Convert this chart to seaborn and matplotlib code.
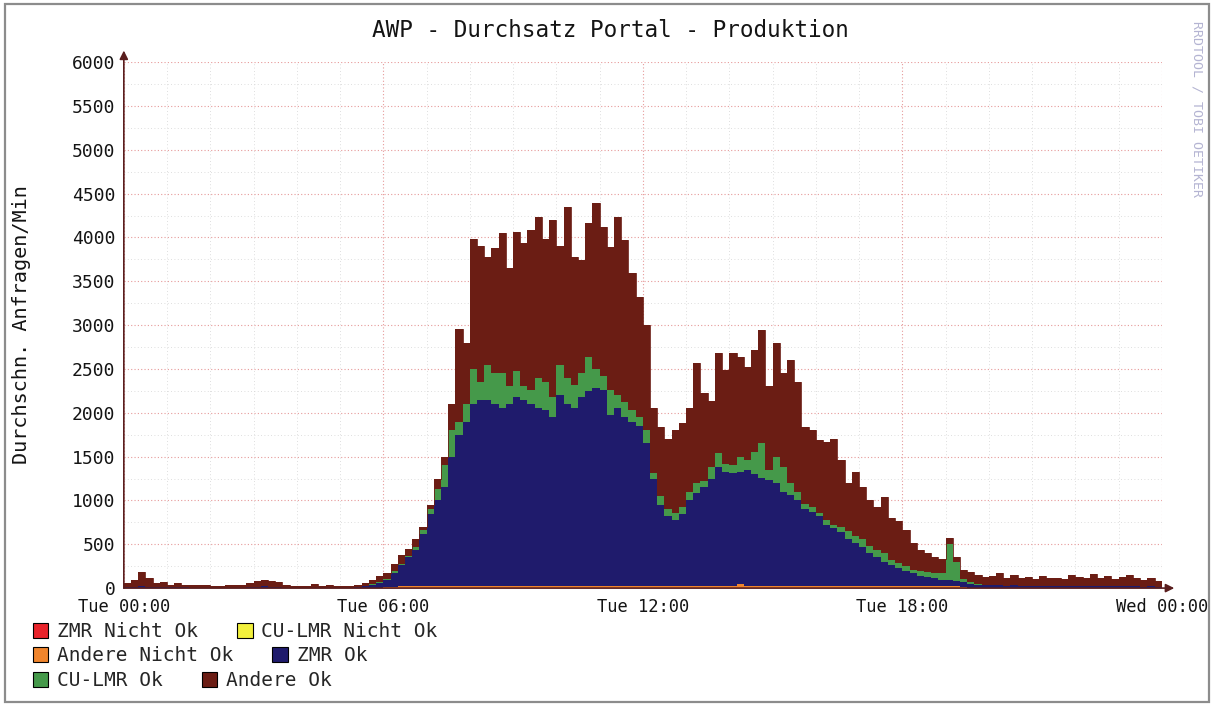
import numpy as np
import pandas as pd
import seaborn as sns
import matplotlib
matplotlib.use("Agg")
from matplotlib import pyplot as plt
from matplotlib.patches import Patch, Rectangle
from matplotlib.ticker import MultipleLocator

# 10-minute averages, Tue 00:00 -> Wed 00:00 (144 samples per series)
zmr_ok = [
    10, 15, 20, 15, 10, 10, 8, 10, 8, 5, 5, 5, 5, 5, 5, 5, 5, 10, 15, 20,
    15, 10, 5, 5, 5, 5, 5, 5, 5, 5, 5, 5, 10, 20, 40, 60,
    80, 155, 240, 330, 420, 600, 830, 980, 1130, 1480, 1730, 1880,
    2080, 2130, 2130, 2080, 2030, 2080, 2160, 2130, 2080, 2030, 2010, 1930,
    2180, 2080, 2030, 2160, 2230, 2260, 2240, 1960, 2040, 1930, 1880, 1830,
    1630, 1230, 930, 800, 760, 830, 980, 1060, 1130, 1230, 1360, 1310,
    1290, 1280, 1330, 1280, 1240, 1210, 1180, 1080, 1040, 980, 880, 850,
    800, 700, 660, 620, 540, 500, 450, 380, 330, 280, 240, 210,
    180, 150, 120, 105, 90, 75, 70, 60, 60, 45, 40, 35,
    30, 30, 25, 30, 25, 25, 20, 25, 25, 25, 20, 25, 25, 20, 25, 25, 25, 20, 20, 25,
    20, 15, 20, 15,
]
cu_lmr_ok = [
    0, 0, 0, 0, 0, 0, 0, 0, 0, 0, 0, 0, 0, 0, 0, 0, 0, 0, 0, 0,
    0, 0, 0, 0, 0, 0, 0, 0, 0, 0, 0, 0, 0, 0, 5, 5,
    10, 20, 20, 20, 30, 40, 50, 130, 250, 300, 150, 200,
    400, 200, 400, 350, 400, 200, 300, 150, 160, 350, 320, 230,
    350, 300, 270, 270, 390, 220, 160, 280, 140, 170, 130, 100,
    150, 60, 100, 80, 80, 80, 100, 120, 70, 130, 160, 90,
    90, 170, 110, 250, 390, 120, 300, 280, 140, 100, 60, 50,
    40, 60, 40, 60, 90, 80, 90, 80, 90, 100, 60, 60,
    50, 40, 60, 55, 60, 75, 410, 220, 30, 20, 10, 5,
    0, 0, 0, 0, 0, 0, 0, 0, 0, 0, 0, 0, 0, 0, 0, 0, 0, 0, 0, 0,
    0, 0, 0, 0,
]
andere_ok = [
    50, 75, 160, 95, 50, 60, 32, 50, 27, 25, 25, 25, 20, 20, 30, 25, 25, 50, 70, 70,
    65, 65, 35, 20, 20, 20, 40, 20, 35, 15, 20, 15, 20, 40, 50, 70,
    70, 90, 100, 80, 90, 40, 50, 120, 100, 300, 1050, 700,
    1480, 1550, 1230, 1430, 1600, 1350, 1580, 1640, 1820, 1830, 1630, 2020,
    1350, 1950, 1460, 1290, 1520, 1890, 1700, 1630, 2030, 1850, 1560, 1370,
    1200, 740, 790, 800, 940, 950, 950, 1370, 1000, 760, 1140, 1070,
    1280, 1140, 1060, 1170, 1290, 950, 1300, 1070, 1400, 1250, 880, 880,
    830, 890, 980, 760, 550, 730, 590, 520, 490, 640, 480, 470,
    410, 300, 230, 220, 190, 160, 70, 50, 110, 110, 100, 90,
    110, 140, 95, 120, 85, 105, 80, 115, 85, 95, 80, 125, 105, 90, 135, 95, 115, 80, 110, 125,
    90, 75, 100, 65,
]
andere_nicht_ok = [
    0, 0, 0, 0, 0, 0, 0, 0, 0, 0, 0, 0, 0, 0, 0, 0, 0, 0, 0, 0,
    0, 0, 0, 0, 0, 0, 0, 0, 0, 0, 0, 0, 0, 0, 0, 0,
    10, 15, 20, 20, 20, 20, 20, 20, 20, 20, 20, 20,
    20, 20, 20, 20, 20, 20, 20, 20, 20, 20, 20, 20,
    20, 20, 20, 20, 20, 20, 20, 20, 20, 20, 20, 20,
    20, 20, 20, 20, 20, 20, 20, 20, 20, 20, 20, 20,
    20, 50, 20, 20, 20, 20, 20, 20, 20, 20, 20, 20,
    20, 20, 20, 20, 20, 20, 20, 20, 20, 20, 20, 20,
    20, 20, 20, 20, 20, 20, 20, 20, 10, 5, 0, 0,
    0, 0, 0, 0, 0, 0, 0, 0, 0, 0, 0, 0, 0, 0, 0, 0, 0, 0, 0, 0,
    0, 0, 0, 0,
]
# both "Nicht Ok" series stay at zero for the whole day
zmr_nicht_ok = [0] * 144
cu_lmr_nicht_ok = [0] * 144

legend_labels = ["ZMR Nicht Ok", "CU-LMR Nicht Ok", "Andere Nicht Ok",
                 "ZMR Ok", "CU-LMR Ok", "Andere Ok"]
colors = ["#e8232b", "#f2f03c", "#f0852d", "#1f1b6c", "#45994a", "#6b1d14"]
tick_hours = [0, 6, 12, 18, 24]
tick_labels = ["Tue 00:00", "Tue 06:00", "Tue 12:00", "Tue 18:00", "Wed 00:00"]

df = pd.DataFrame({
    "ZMR Nicht Ok": zmr_nicht_ok,
    "CU-LMR Nicht Ok": cu_lmr_nicht_ok,
    "Andere Nicht Ok": andere_nicht_ok,
    "ZMR Ok": zmr_ok,
    "CU-LMR Ok": cu_lmr_ok,
    "Andere Ok": andere_ok,
})
cum = df.cumsum(axis=1)
hours = np.arange(len(df) + 1) / 6.0

sns.set_style("white")
plt.rcParams["font.family"] = ["DejaVu Sans Mono"]
text_col = "#141414"
axis_col = "#5a1e1e"

fig = plt.figure(figsize=(12.14, 7.06), dpi=100, facecolor="white")
ax = fig.add_axes([0.102, 0.167, 0.855, 0.745])

lower = np.zeros(len(hours))
for name, color in zip(legend_labels, colors):
    upper = np.append(cum[name].values, cum[name].values[-1])
    ax.fill_between(hours, lower, upper, step="post", color=color, lw=0, zorder=3)
    lower = upper
sns.lineplot(x=hours, y=lower, drawstyle="steps-post", color=colors[-1],
             lw=0.6, ax=ax, zorder=4)

ax.set_xlim(0, 24)
ax.set_ylim(0, 6000)
ax.set_xticks(tick_hours, tick_labels)
ax.xaxis.set_minor_locator(MultipleLocator(1))
ax.yaxis.set_major_locator(MultipleLocator(500))
ax.yaxis.set_minor_locator(MultipleLocator(250))
ax.grid(which="major", color="#e69a9a", ls=(0, (1, 2)), lw=0.8, zorder=1)
ax.grid(which="minor", color="#d4d4d4", ls=(0, (1, 3)), lw=0.6, zorder=1)
ax.tick_params(axis="both", which="major", length=4, width=0.8, color=axis_col,
               labelsize=13, labelcolor=text_col, pad=2)
ax.tick_params(axis="x", which="major", labelsize=12.3, pad=3)
ax.tick_params(axis="both", which="minor", length=2, width=0.6, color=axis_col)
for s in ax.spines.values():
    s.set_visible(False)

ax.annotate("", xy=(0, 1.022), xytext=(0, 0), xycoords="axes fraction",
            arrowprops=dict(arrowstyle="-|>,head_length=0.5,head_width=0.25",
                            color=axis_col, lw=1.2, shrinkA=0, shrinkB=0), zorder=6)
ax.annotate("", xy=(1.012, 0), xytext=(0, 0), xycoords="axes fraction",
            arrowprops=dict(arrowstyle="-|>,head_length=0.5,head_width=0.25",
                            color=axis_col, lw=1.2, shrinkA=0, shrinkB=0), zorder=6)

fig.text(0.503, 0.957, "AWP - Durchsatz Portal - Produktion", ha="center", va="center",
         fontsize=16.3, color=text_col)
fig.text(0.018, 0.54, "Durchschn. Anfragen/Min", rotation=90, ha="center", va="center",
         fontsize=14.5, color=text_col)
fig.text(0.986, 0.845, "RRDTOOL / TOBI OETIKER", rotation=270, ha="center", va="center",
         fontsize=9.5, color="#b4b4d2")

handles = [Patch(facecolor=c, edgecolor="black", lw=0.8) for c in colors]
rows_y = [0.105, 0.071, 0.036]
for r, y in enumerate(rows_y):
    fig.legend(handles=handles[2 * r:2 * r + 2], labels=legend_labels[2 * r:2 * r + 2],
               loc="center left", bbox_to_anchor=(0.027, y), ncol=2, frameon=False,
               fontsize=14, handlelength=0.8, handleheight=0.8, handletextpad=0.45,
               columnspacing=2.0, borderpad=0, borderaxespad=0)

fig.add_artist(Rectangle((0.004, 0.006), 0.992, 0.988, transform=fig.transFigure,
                         fill=False, edgecolor="#8c8c8c", lw=1.6))

fig.savefig("out.png", dpi=100)
